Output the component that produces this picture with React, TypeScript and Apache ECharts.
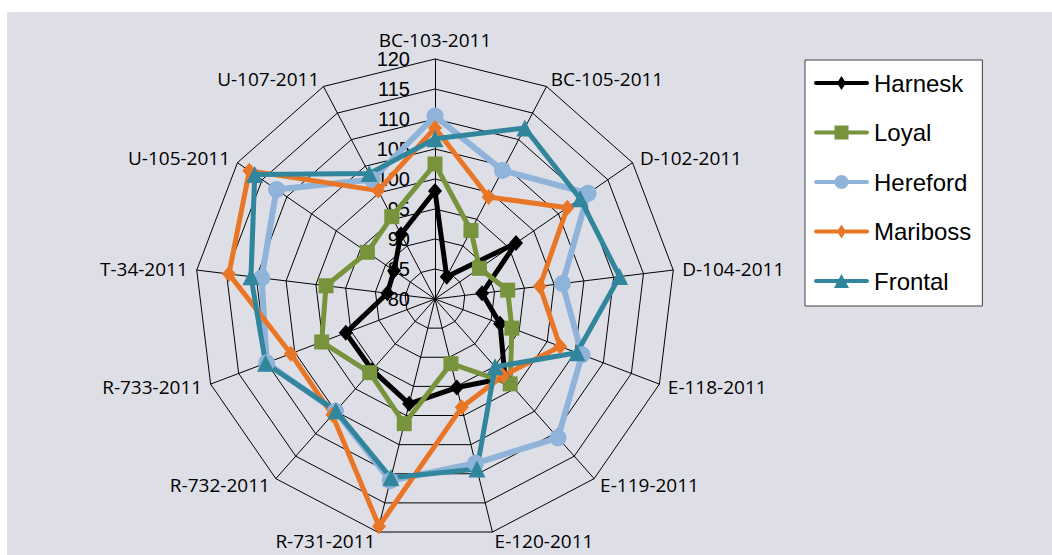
import React, { useEffect, useRef } from "react";
import * as echarts from "echarts";

// Indicators in clockwise order starting at the top
const indicatorsCW = [
  "BC-103-2011", "BC-105-2011", "D-102-2011", "D-104-2011", "E-118-2011",
  "E-119-2011", "E-120-2011", "R-731-2011", "R-732-2011", "R-733-2011",
  "T-34-2011", "U-105-2011", "U-107-2011",
];

// Values, same clockwise order as indicatorsCW
const harnesk = [98, 84.2, 96.4, 87.9, 91.6, 97.6, 95.2, 98, 95.8, 95.9, 88, 88.3, 92.2];
const loyal = [102.5, 92.9, 89, 92.2, 93.7, 98.9, 91.1, 101.4, 96.4, 100.2, 98.3, 93.7, 95.5];
const hereford = [110.5, 104.2, 111, 101.4, 106.2, 110.9, 108.2, 111.2, 105, 110, 109.1, 112.1, 102.5];
const mariboss = [108.5, 99.2, 106.8, 97.6, 102.3, 97.1, 98.6, 119, 105.8, 105.7, 114.6, 117.6, 100.4];
const frontal = [106.7, 112.2, 109.4, 111, 105.3, 95.1, 109.2, 110.7, 104.9, 110.2, 110.9, 116.5, 103.6];

const seriesNames = ["Harnesk", "Loyal", "Hereford", "Mariboss", "Frontal"];
const axisMin = 80;
const axisMax = 120;
const axisSplits = 8;

// ECharts lays radar indicators counter-clockwise; reorder to get clockwise.
const toCCW = <T,>(arr: T[]): T[] => [arr[0], ...arr.slice(1).reverse()];

const lineBar = "M2,5 L53,5 A2,2 0 0,1 53,9 L2,9 A2,2 0 0,1 2,5 Z ";
const iconDiamond = "path://" + lineBar + "M27.5,0 L32,7 L27.5,14 L23,7 Z";
const iconSquare = "path://" + lineBar + "M20.5,0 L34.5,0 L34.5,14 L20.5,14 Z";
const iconCircle = "path://" + lineBar + "M20.5,7 A7,7 0 1,1 34.5,7 A7,7 0 1,1 20.5,7 Z";
const iconTriangle = "path://" + lineBar + "M27.5,0 L35,14 L20,14 Z";

const seriesValues = [harnesk, loyal, hereford, mariboss, frontal];
const seriesColors = ["#000000", "#77933c", "#8fb3d9", "#e97626", "#31859c"];
const seriesSymbols = ["diamond", "rect", "circle", "diamond", "triangle"];
const seriesSymbolSizes: any[] = [[14, 16], 15, 17, [14, 16], 17];
const seriesLineWidths = [5, 5, 6, 5, 5];
const legendIcons = [iconDiamond, iconSquare, iconCircle, iconDiamond, iconTriangle];

export default function App() {
  const ref = useRef<HTMLDivElement>(null);

  useEffect(() => {
    if (!ref.current) return;
    const chart = echarts.init(ref.current, undefined, { renderer: "svg" });
    const indicatorNames = toCCW(indicatorsCW);

    const option: any = {
      animation: false,
      backgroundColor: "#ffffff",
      graphic: {
        elements: [
          {
            type: "rect",
            z: -100,
            silent: true,
            shape: { x: 7, y: 12, width: 1045, height: 543 },
            style: { fill: "#dedfe6" },
          },
        ],
      },
      legend: {
        orient: "vertical",
        left: 805,
        top: 60,
        padding: [11, 11, 13, 9],
        itemGap: 25.5,
        itemWidth: 55,
        itemHeight: 14,
        backgroundColor: "#ffffff",
        borderColor: "#404040",
        borderWidth: 1,
        selectedMode: false,
        textStyle: {
          fontFamily: "Liberation Sans",
          fontSize: 24,
          lineHeight: 24,
          color: "#000000",
        },
        data: seriesNames.map((n, i) => ({ name: n, icon: legendIcons[i] })),
      },
      radar: {
        center: [435, 299],
        radius: 240,
        startAngle: 90,
        splitNumber: axisSplits,
        shape: "polygon",
        nameGap: 9,
        axisName: {
          color: "#000000",
          fontFamily: "Open Sans",
          fontSize: 19,
          lineHeight: 19,
        },
        indicator: indicatorNames.map((n, i) => {
          const ind: any = { name: n, min: axisMin, max: axisMax };
          if (i === 0) {
            ind.axisLabel = {
              show: true,
              color: "#000000",
              fontFamily: "Liberation Sans",
              fontSize: 20,
              lineHeight: 18,
              margin: 25,
            };
          }
          return ind;
        }),
        axisLine: { lineStyle: { color: "#000000", width: 1 } },
        splitLine: { lineStyle: { color: "#000000", width: 1 } },
        splitArea: { show: false },
        axisTick: { show: false },
        axisLabel: { show: false },
      },
      series: seriesNames.map((name, k) => ({
        type: "radar",
        name,
        symbol: seriesSymbols[k],
        symbolSize: seriesSymbolSizes[k],
        lineStyle: { color: seriesColors[k], width: seriesLineWidths[k] },
        itemStyle: { color: seriesColors[k] },
        data: [{ name, value: toCCW(seriesValues[k]) }],
      })),
    };

    chart.setOption(option);
    return () => chart.dispose();
  }, []);

  return (
    <div
      ref={ref}
      style={{ position: "absolute", left: 0, top: 0, width: 1052, height: 555 }}
    />
  );
}
